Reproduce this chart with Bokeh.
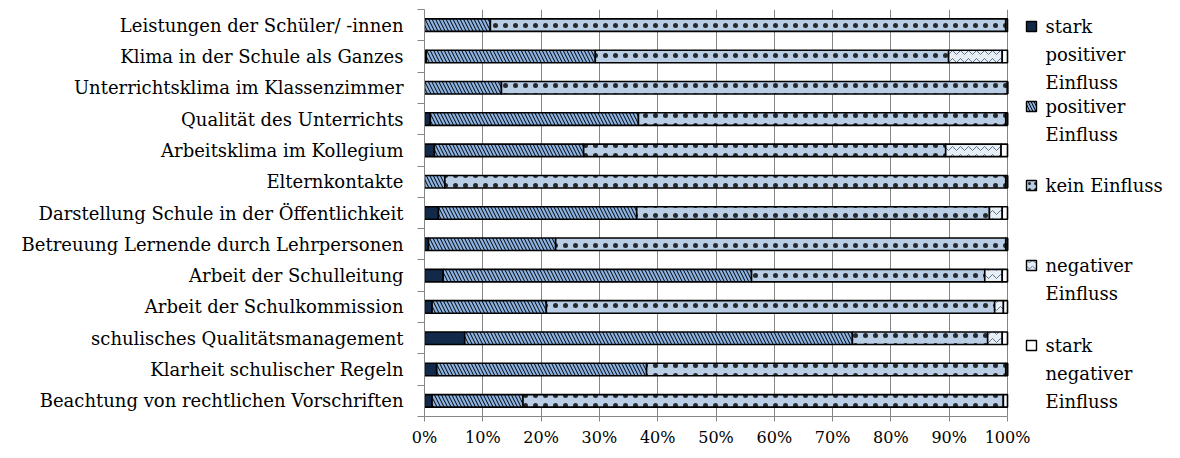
import numpy as np
from bokeh.plotting import figure
from bokeh.models import FixedTicker, PrintfTickFormatter, Range1d, ColumnDataSource
from bokeh.core.properties import value
from bokeh.embed import file_html
from bokeh.resources import INLINE

# ---------------- data ----------------
categories = [
    "Leistungen der Schüler/ -innen",
    "Klima in der Schule als Ganzes",
    "Unterrichtsklima im Klassenzimmer",
    "Qualität des Unterrichts",
    "Arbeitsklima im Kollegium",
    "Elternkontakte",
    "Darstellung Schule in der Öffentlichkeit",
    "Betreuung Lernende durch Lehrpersonen",
    "Arbeit der Schulleitung",
    "Arbeit der Schulkommission",
    "schulisches Qualitätsmanagement",
    "Klarheit schulischer Regeln",
    "Beachtung von rechtlichen Vorschriften",
]
stark_positiv = [0.0, 0.3, 0.0, 1.0, 1.7, 0.0, 2.4, 0.7, 3.2, 1.3, 6.9, 2.1, 1.3]
positiv       = [11.3, 29.0, 13.2, 35.7, 25.6, 3.5, 34.0, 21.8, 52.9, 19.6, 66.5, 36.0, 15.6]
kein          = [88.4, 60.6, 86.8, 63.0, 62.1, 96.2, 60.5, 77.2, 40.0, 76.9, 23.2, 61.6, 82.4]
negativ       = [0.0, 9.2, 0.0, 0.3, 9.5, 0.3, 2.2, 0.3, 3.0, 1.5, 2.5, 0.3, 0.0]
stark_negativ = [0.3, 0.9, 0.0, 0.0, 1.1, 0.0, 0.9, 0.0, 0.9, 0.7, 0.9, 0.0, 0.7]

series_labels = [
    ["stark", "positiver", "Einfluss"],
    ["positiver", "Einfluss"],
    ["kein Einfluss"],
    ["negativer", "Einfluss"],
    ["stark", "negativer", "Einfluss"],
]
tick_values = [0, 10, 20, 30, 40, 50, 60, 70, 80, 90, 100]

# ---------------- styles ----------------
FONT = "DejaVu Serif"
FS_CAT = "18px"
FS_TICK = "16px"
GRAY = "#868686"

styles = [
    dict(fill_color="#12294a"),
    dict(fill_color="#8db3e2", hatch_pattern="\\", hatch_color="black", hatch_scale=7, hatch_weight=1),
    dict(fill_color="#b9cde5", hatch_pattern="dot", hatch_color="black", hatch_scale=10,
         hatch_weight=0.5, hatch_alpha=0.8),
    dict(fill_color="#e8eef6", hatch_pattern="v", hatch_color="#5f7894", hatch_scale=8, hatch_weight=1),
    dict(fill_color="white"),
]

W, H = 1176, 456
LEFT = 424          # frame left (canvas px)
TOP = 9             # frame top
FRAME_BOTTOM = 416
BOTTOM = H - FRAME_BOTTOM
px_per_pct = 5.83
x_end = (W - LEFT) / px_per_pct

n = len(categories)
ys = [n - 1 - i for i in range(n)]

p = figure(width=W, height=H, output_backend="svg", toolbar_location=None,
           x_range=Range1d(0, x_end), y_range=Range1d(-0.5, n - 0.5),
           min_border_left=LEFT, min_border_right=0, min_border_top=TOP,
           min_border_bottom=BOTTOM)
p.outline_line_color = None
p.background_fill_color = "white"
p.border_fill_color = "white"

# stacked bars
series = [stark_positiv, positiv, kein, negativ, stark_negativ]
left = np.zeros(n)
for vals, st in zip(series, styles):
    vals = np.array(vals)
    src = ColumnDataSource(dict(y=ys, left=left, right=left + vals))
    p.hbar(y="y", left="left", right="right", height=0.4, source=src,
           line_color="black", line_width=1.6, **st)
    left = left + vals

# x axis
p.xaxis.ticker = FixedTicker(ticks=tick_values)
p.xaxis.formatter = PrintfTickFormatter(format="%d%%")
p.xaxis.bounds = (0, 100)
p.xaxis.axis_line_color = GRAY
p.xaxis.major_tick_line_color = GRAY
p.xaxis.major_tick_out = 5
p.xaxis.major_tick_in = 0
p.xaxis.minor_tick_line_color = None
p.xaxis.major_label_standoff = 6
p.xaxis.major_label_text_font = FONT
p.xaxis.major_label_text_font_size = FS_TICK
p.xaxis.major_label_text_color = "black"

p.xgrid.ticker = FixedTicker(ticks=tick_values)
p.xgrid.grid_line_color = GRAY
p.xgrid.bounds = (0, 100)
p.ygrid.grid_line_color = None

# y axis
p.yaxis.ticker = FixedTicker(ticks=ys, minor_ticks=[k - 0.5 for k in range(n + 1)])
p.yaxis.major_label_overrides = {y: c for y, c in zip(ys, categories)}
p.yaxis.axis_line_color = GRAY
p.yaxis.major_tick_line_color = None
p.yaxis.major_tick_out = 0
p.yaxis.major_tick_in = 0
p.yaxis.minor_tick_line_color = GRAY
p.yaxis.minor_tick_out = 7
p.yaxis.minor_tick_in = 0
p.yaxis.major_label_standoff = 14
p.yaxis.major_label_text_font = FONT
p.yaxis.major_label_text_font_size = FS_CAT
p.yaxis.major_label_text_color = "black"

# legend (drawn inside extended frame, right of 100%)
ppu_y = (FRAME_BOTTOM - TOP) / n
def py_to_y(py):  # canvas y -> data y
    return (n - 0.5) - (py - TOP) / ppu_y
def px_to_x(px):  # canvas x -> data x
    return (px - LEFT) / px_per_pct

item_tops = [26, 106, 185, 265, 345]
line_step = 28
for lab, st, ty in zip(series_labels, styles, item_tops):
    kw = dict(st)
    if "hatch_scale" in kw:
        kw["hatch_scale"] = min(kw["hatch_scale"], 6)
    p.rect(x=[px_to_x(1031)], y=[py_to_y(ty)], width=10, height=10,
           width_units="screen", height_units="screen",
           line_color="black", line_width=1.4, **kw)
    p.text(x=[px_to_x(1045)] * len(lab),
           y=[py_to_y(ty + k * line_step) for k in range(len(lab))],
           text=lab, text_font=value(FONT), text_font_size=FS_CAT,
           text_align="left", text_baseline="middle", text_color="black")

open("out.html", "w").write(file_html(p, INLINE))
